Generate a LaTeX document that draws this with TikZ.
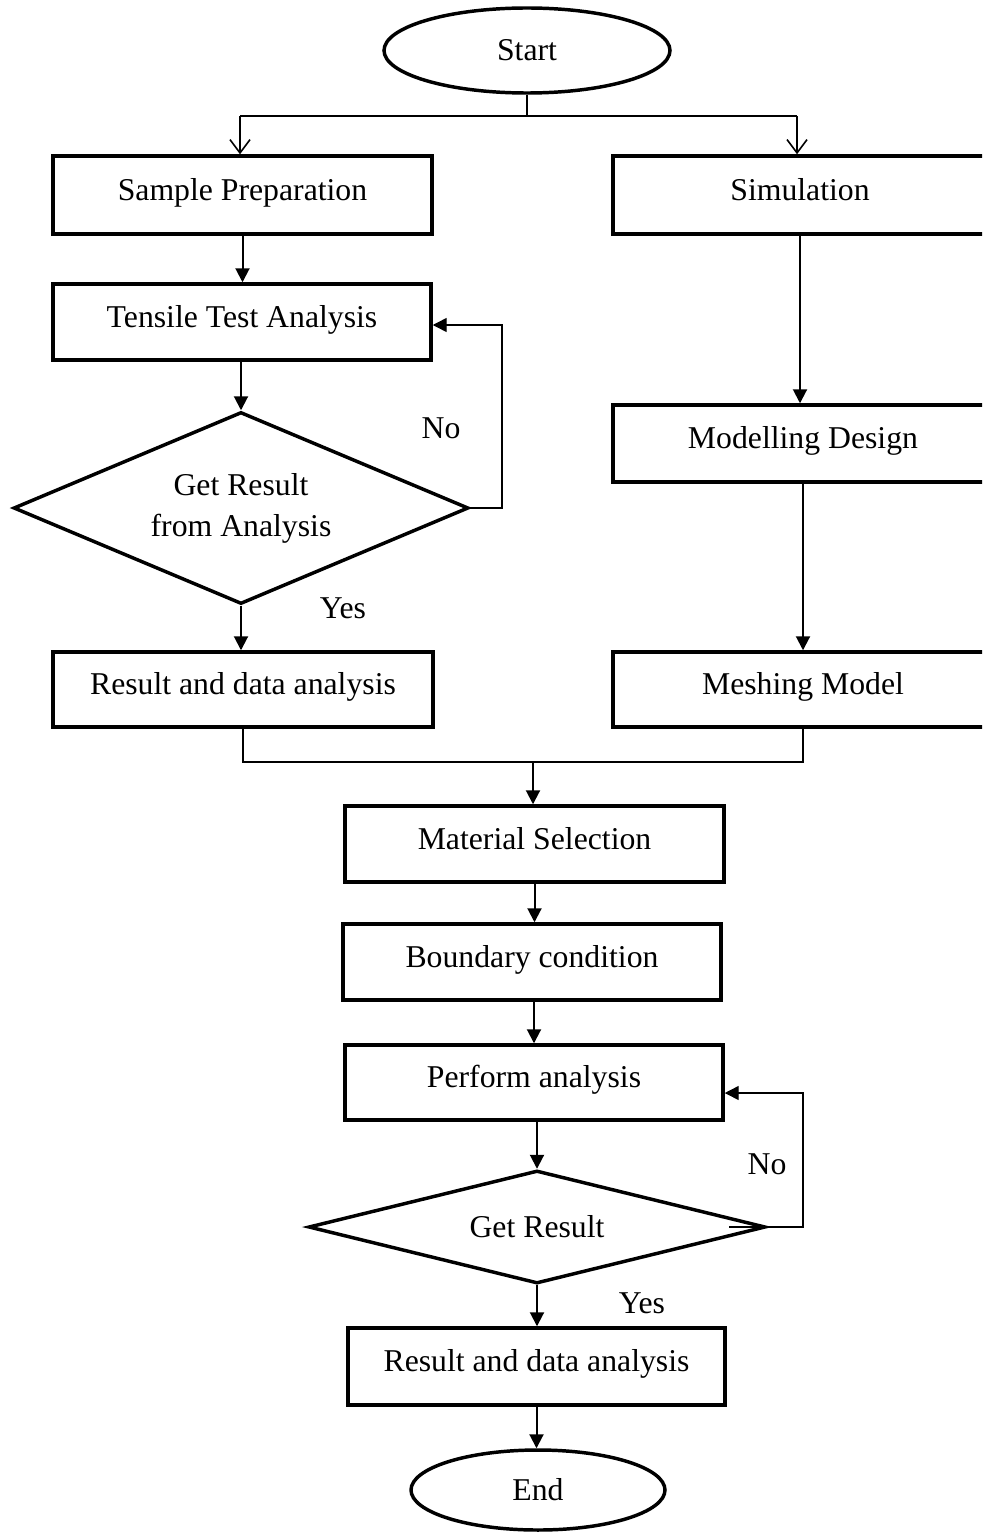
\documentclass[tikz,border=0pt]{standalone}
\usepackage{fontspec}
\setmainfont{Liberation Serif}
\usetikzlibrary{shapes.geometric,arrows.meta}
\begin{document}
\begin{tikzpicture}[x=0.75pt,y=-0.75pt,
  every node/.style={font=\fontsize{23.8}{30.75}\selectfont},
  stepbox/.style={draw, line width=2.6pt, minimum height=76*0.75pt, inner sep=0pt, text height=15.7pt, text depth=7.5pt},
  term/.style={draw, ellipse, line width=2.6pt, inner sep=0pt, text height=15.7pt, text depth=0pt},
  dec/.style={draw, diamond, line width=2.6pt, inner sep=0pt, align=center},
  arr/.style={line width=1.5pt, -{Triangle[length=10.5pt,width=10.5pt]}},
  looparr/.style={line width=1.1pt, -{Triangle[length=10.5pt,width=10.5pt]}},
  ln/.style={line width=1.1pt},
  splitarr/.style={line width=1.2pt, -{Straight Barb[length=10pt,width=15pt]}},
  lbl/.style={anchor=base, inner sep=0pt}
]
\useasboundingbox (0,0) rectangle (982,1537);
\clip (0,0) rectangle (982,1537);

\node[term, minimum width=286*0.75pt, minimum height=85*0.75pt] (start) at (527,50.5) {Start};
\node[stepbox, minimum width=379*0.75pt, minimum height=78*0.75pt] (sp) at (242.5,195) {Sample Preparation};
\node[stepbox, minimum width=374*0.75pt, minimum height=78*0.75pt] (sim) at (800,195) {Simulation};
\node[stepbox, minimum width=378*0.75pt] (tt) at (242,322) {Tensile Test Analysis};
\node[dec, shape aspect=2.37, minimum width=455*0.75pt, minimum height=192*0.75pt] (d1) at (241,508) {Get Result\\from Analysis};
\node[stepbox, minimum width=380*0.75pt, minimum height=75*0.75pt] (r1) at (243,689.5) {Result and data analysis};
\node[stepbox, minimum width=380*0.75pt, minimum height=77*0.75pt] (mod) at (803,443.5) {Modelling Design};
\node[stepbox, minimum width=380*0.75pt, minimum height=75*0.75pt] (mesh) at (803,689.5) {Meshing Model};
\node[stepbox, minimum width=379*0.75pt] (mat) at (534.5,844) {Material Selection};
\node[stepbox, minimum width=378*0.75pt] (bc) at (532,962) {Boundary condition};
\node[stepbox, minimum width=378*0.75pt, minimum height=75*0.75pt] (pa) at (534,1082.5) {Perform analysis};
\node[dec, shape aspect=4.04, minimum width=457*0.75pt, minimum height=113*0.75pt] (d2) at (537,1227) {Get Result};
\node[stepbox, minimum width=377*0.75pt, minimum height=77*0.75pt] (r2) at (536.5,1366.5) {Result and data analysis};
\node[term, minimum width=254*0.75pt, minimum height=80*0.75pt] (end) at (538,1490) {End};

% labels
\node[lbl] (no1) at (441,438.5) {No};
\node[lbl] (yes1) at (343,618.5) {Yes};
\node[lbl] (no2) at (767,1174.5) {No};
\node[lbl] (yes2) at (642,1313.5) {Yes};

% split from start
\coordinate (split) at (527,116);
\coordinate (splL) at (240,116);
\coordinate (splR) at (797,116);
\draw[ln] (start.south) -- (split);
\draw[ln] (splL) -- (splR);
\draw[splitarr] (splL) -- (splL |- sp.north);
\draw[splitarr] (splR) -- (splR |- sim.north);

% left branch
\draw[arr] (sp.south) -- (sp.south |- tt.north);
\draw[arr] (d1.north |- tt.south) -- (d1.north);
\coordinate (n1) at (502,325);
\draw[looparr] (d1.east) -| (n1) -- (n1 -| tt.east);
\draw[arr] (d1.south) -- (d1.south |- r1.north);

% right branch
\draw[arr] (sim.south) -- (sim.south |- mod.north);
\draw[arr] (mod.south) -- (mesh.north);

% merge
\coordinate (mM) at (533,762);
\draw[ln] (r1.south) -- (r1.south |- mM) -- (mesh.south |- mM) -- (mesh.south);
\draw[arr] (mM) -- (mM |- mat.north);

% lower chain
\draw[arr] (mat.south) -- (mat.south |- bc.north);
\draw[arr] (pa.north |- bc.south) -- (pa.north);
\draw[arr] (d2.north |- pa.south) -- (d2.north);
\coordinate (n2) at (803,1093);
\draw[looparr] ([xshift=-28.5pt]d2.east) -- (d2.east) -| (n2) -- (n2 -| pa.east);
\draw[arr] (d2.south) -- (d2.south |- r2.north);
\draw[arr] (r2.south) -- (r2.south |- end.north);
\end{tikzpicture}
\end{document}
